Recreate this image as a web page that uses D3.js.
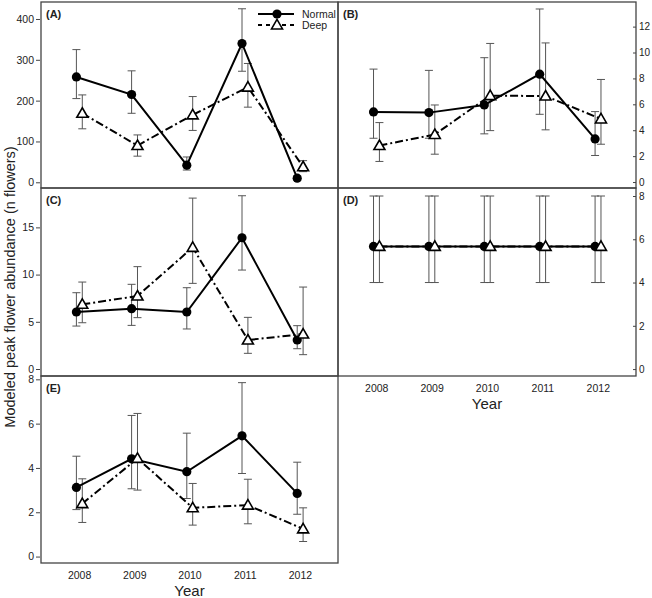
<!DOCTYPE html>
<html><head><meta charset="utf-8">
<script src="https://cdn.jsdelivr.net/npm/d3@7"></script>
<style>body{margin:0;background:#fff}svg{display:block;font-family:Arial,"Liberation Sans",sans-serif}</style>
</head><body>
<script>
const years = [2008, 2009, 2010, 2011, 2012];
const seriesNames = ["Normal", "Deep"];
const panelLabels = ["(A)", "(B)", "(C)", "(D)", "(E)"];

// Panel A
const aNormal   = [258, 215, 42, 340, 10];
const aNormalLo = [205, 169, 30, 272, 5];
const aNormalHi = [325, 273, 62, 425, 16];
const aDeep     = [169, 90, 165, 233, 38];
const aDeepLo   = [131, 64, 127, 184, 26];
const aDeepHi   = [214, 116, 210, 291, 53];
const aTicks    = [0, 100, 200, 300, 400];

// Panel B
const bNormal   = [5.41, 5.36, 5.95, 8.33, 3.33];
const bNormalLo = [3.38, 3.38, 3.72, 5.23, 2.05];
const bNormalHi = [8.72, 8.62, 9.6, 13.36, 5.44];
const bDeep     = [2.82, 3.67, 6.67, 6.64, 4.87];
const bDeepLo   = [1.59, 2.15, 3.97, 4.03, 2.92];
const bDeepHi   = [4.59, 5.95, 10.7, 10.74, 7.92];
const bTicks    = [0, 2, 4, 6, 8, 10, 12];

// Panel C
const cNormal   = [6.04, 6.39, 6.04, 13.9, 3.07];
const cNormalLo = [4.55, 4.62, 4.24, 10.48, 2.15];
const cNormalHi = [8.08, 8.97, 8.61, 18.35, 4.59];
const cDeep     = [6.85, 7.73, 12.88, 3.07, 3.7];
const cDeepLo   = [4.9, 5.44, 9.07, 1.66, 1.52];
const cDeepHi   = [9.21, 10.84, 18.1, 5.47, 8.68];
const cTicks    = [0, 5, 10, 15];

// Panel D
const dNormal   = [5.67, 5.67, 5.67, 5.67, 5.67];
const dNormalLo = [4.0, 4.0, 4.0, 4.0, 4.0];
const dNormalHi = [8.0, 8.0, 8.0, 8.0, 8.0];
const dDeep     = [5.67, 5.67, 5.67, 5.67, 5.67];
const dDeepLo   = [4.0, 4.0, 4.0, 4.0, 4.0];
const dDeepHi   = [8.0, 8.0, 8.0, 8.0, 8.0];
const dTicks    = [0, 2, 4, 6, 8];

// Panel E
const eNormal   = [3.12, 4.41, 3.83, 5.45, 2.85];
const eNormalLo = [2.12, 3.06, 2.62, 3.75, 1.91];
const eNormalHi = [4.53, 6.37, 5.57, 7.85, 4.26];
const eDeep     = [2.39, 4.43, 2.2, 2.32, 1.25];
const eDeepLo   = [1.54, 3.0, 1.42, 1.48, 0.68];
const eDeepHi   = [3.51, 6.46, 3.3, 3.49, 2.2];
const eTicks    = [0, 2, 4, 6, 8];

const yLabel = "Modeled peak flower abundance (n flowers)";
const xLabel = "Year";

const W = 652, H = 598;
const svg = d3.select("body").append("svg").attr("width", W).attr("height", H);

const colL = [41, 338], colR = [338, 636];
const rows = [[2, 188], [188, 376], [376, 563]];

const panels = [
  {label: panelLabels[0], xr: colL, yr: rows[0], dom: [-14, 441.6], ticks: aTicks, side: "left",  n: aNormal, nl: aNormalLo, nh: aNormalHi, d: aDeep, dl: aDeepLo, dh: aDeepHi, legend: true},
  {label: panelLabels[1], xr: colR, yr: rows[0], dom: [-0.46, 13.9], ticks: bTicks, side: "right", n: bNormal, nl: bNormalLo, nh: bNormalHi, d: bDeep, dl: bDeepLo, dh: bDeepHi},
  {label: panelLabels[2], xr: colL, yr: rows[1], dom: [-0.74, 19.17], ticks: cTicks, side: "left", n: cNormal, nl: cNormalLo, nh: cNormalHi, d: cDeep, dl: cDeepLo, dh: cDeepHi},
  {label: panelLabels[3], xr: colR, yr: rows[1], dom: [-0.32, 8.37], ticks: dTicks, side: "right", n: dNormal, nl: dNormalLo, nh: dNormalHi, d: dDeep, dl: dDeepLo, dh: dDeepHi, xaxis: true},
  {label: panelLabels[4], xr: colL, yr: rows[2], dom: [-0.29, 8.15], ticks: eTicks, side: "left", n: eNormal, nl: eNormalLo, nh: eNormalHi, d: eDeep, dl: eDeepLo, dh: eDeepHi, xaxis: true}
];

const frameColor = "#444", textColor = "#222", errColor = "#555";
const offN = -2.7, offD = 3.2, capW = 4;
const dashDeep = "8,3,2,3";
const tri = d3.symbol().type(d3.symbolTriangle).size(52);

panels.forEach(p => {
  const x = d3.scaleLinear().domain([2007.31, 2012.69]).range(p.xr);
  const y = d3.scaleLinear().domain(p.dom).range([p.yr[1], p.yr[0]]);
  const g = svg.append("g");

  // y axis
  if (p.side === "left") {
    const ax = g.append("g").attr("transform", `translate(${p.xr[0]},0)`)
      .call(d3.axisLeft(y).tickValues(p.ticks).tickSize(4).tickPadding(3));
    ax.select(".domain").remove();
    ax.selectAll("line").attr("stroke", frameColor).attr("transform", "translate(-1,0)");
    ax.selectAll("text").attr("font-size", 10.5).attr("fill", textColor);
  } else {
    const ax = g.append("g").attr("transform", `translate(${p.xr[1]},0)`)
      .call(d3.axisRight(y).tickValues(p.ticks).tickSize(-3).tickPadding(3));
    ax.select(".domain").remove();
    ax.selectAll("line").attr("stroke", frameColor);
    ax.selectAll("text").attr("font-size", 10).attr("fill", textColor);
  }

  // x axis labels
  if (p.xaxis) {
    const ax = g.append("g").attr("transform", `translate(0,${p.yr[1]})`)
      .call(d3.axisBottom(x).tickValues(years).tickFormat(d3.format("d")).tickSize(0).tickPadding(9));
    ax.select(".domain").remove();
    ax.selectAll("text").attr("font-size", 10.5).attr("fill", textColor);
    g.append("text").attr("x", (p.xr[0] + p.xr[1]) / 2).attr("y", p.yr[1] + 33)
      .attr("text-anchor", "middle").attr("font-size", 15).attr("fill", textColor).text(xLabel);
  }

  // frame
  g.append("rect").attr("x", p.xr[0]).attr("y", p.yr[0])
    .attr("width", p.xr[1] - p.xr[0]).attr("height", p.yr[1] - p.yr[0])
    .attr("fill", "none").attr("stroke", frameColor).attr("stroke-width", 1.3);

  // panel label
  g.append("text").attr("x", p.xr[0] + 5).attr("y", p.yr[0] + 16)
    .attr("font-size", 11).attr("font-weight", "bold").attr("fill", textColor).text(p.label);

  const series = [
    {v: p.n, lo: p.nl, hi: p.nh, off: offN, dash: null},
    {v: p.d, lo: p.dl, hi: p.dh, off: offD, dash: dashDeep}
  ];

  // error bars
  series.forEach(s => {
    years.forEach((yr, i) => {
      const cx = x(yr) + s.off;
      g.append("line").attr("x1", cx).attr("x2", cx).attr("y1", y(s.lo[i])).attr("y2", y(s.hi[i]))
        .attr("stroke", errColor).attr("stroke-width", 1);
      [s.lo[i], s.hi[i]].forEach(v => {
        g.append("line").attr("x1", cx - capW).attr("x2", cx + capW).attr("y1", y(v)).attr("y2", y(v))
          .attr("stroke", errColor).attr("stroke-width", 1);
      });
    });
  });

  // lines
  series.forEach(s => {
    const line = d3.line().x((d, i) => x(years[i]) + s.off).y(d => y(d));
    g.append("path").datum(s.v).attr("d", line).attr("fill", "none")
      .attr("stroke", "#000").attr("stroke-width", 2)
      .attr("stroke-dasharray", s.dash);
  });

  // markers
  years.forEach((yr, i) => {
    g.append("circle").attr("cx", x(yr) + offN).attr("cy", y(p.n[i])).attr("r", 4.6).attr("fill", "#000");
  });
  years.forEach((yr, i) => {
    g.append("path").attr("d", tri)
      .attr("transform", `translate(${x(yr) + offD},${y(p.d[i]) + 0.8})`)
      .attr("fill", "#fff").attr("stroke", "#000").attr("stroke-width", 1.6);
  });

  // legend
  if (p.legend) {
    const lx0 = 258, lx1 = 294, mx = 277, tx = 302;
    const ly = [14, 25];
    g.append("line").attr("x1", lx0).attr("x2", lx1).attr("y1", ly[0]).attr("y2", ly[0])
      .attr("stroke", "#000").attr("stroke-width", 2);
    g.append("circle").attr("cx", mx).attr("cy", ly[0]).attr("r", 4.6).attr("fill", "#000");
    g.append("line").attr("x1", lx0).attr("x2", lx1).attr("y1", ly[1]).attr("y2", ly[1])
      .attr("stroke", "#000").attr("stroke-width", 2).attr("stroke-dasharray", "4,4");
    g.append("path").attr("d", tri).attr("transform", `translate(${mx},${ly[1] + 0.8})`)
      .attr("fill", "#fff").attr("stroke", "#000").attr("stroke-width", 1.6);
    seriesNames.forEach((nm, i) => {
      g.append("text").attr("x", tx).attr("y", ly[i]).attr("dy", "0.35em")
        .attr("font-size", 10.5).attr("fill", textColor).text(nm);
    });
  }
});

// y label
svg.append("text").attr("transform", "translate(15,287) rotate(-90)")
  .attr("text-anchor", "middle").attr("font-size", 14.5).attr("fill", textColor).text(yLabel);
</script>
</body></html>
